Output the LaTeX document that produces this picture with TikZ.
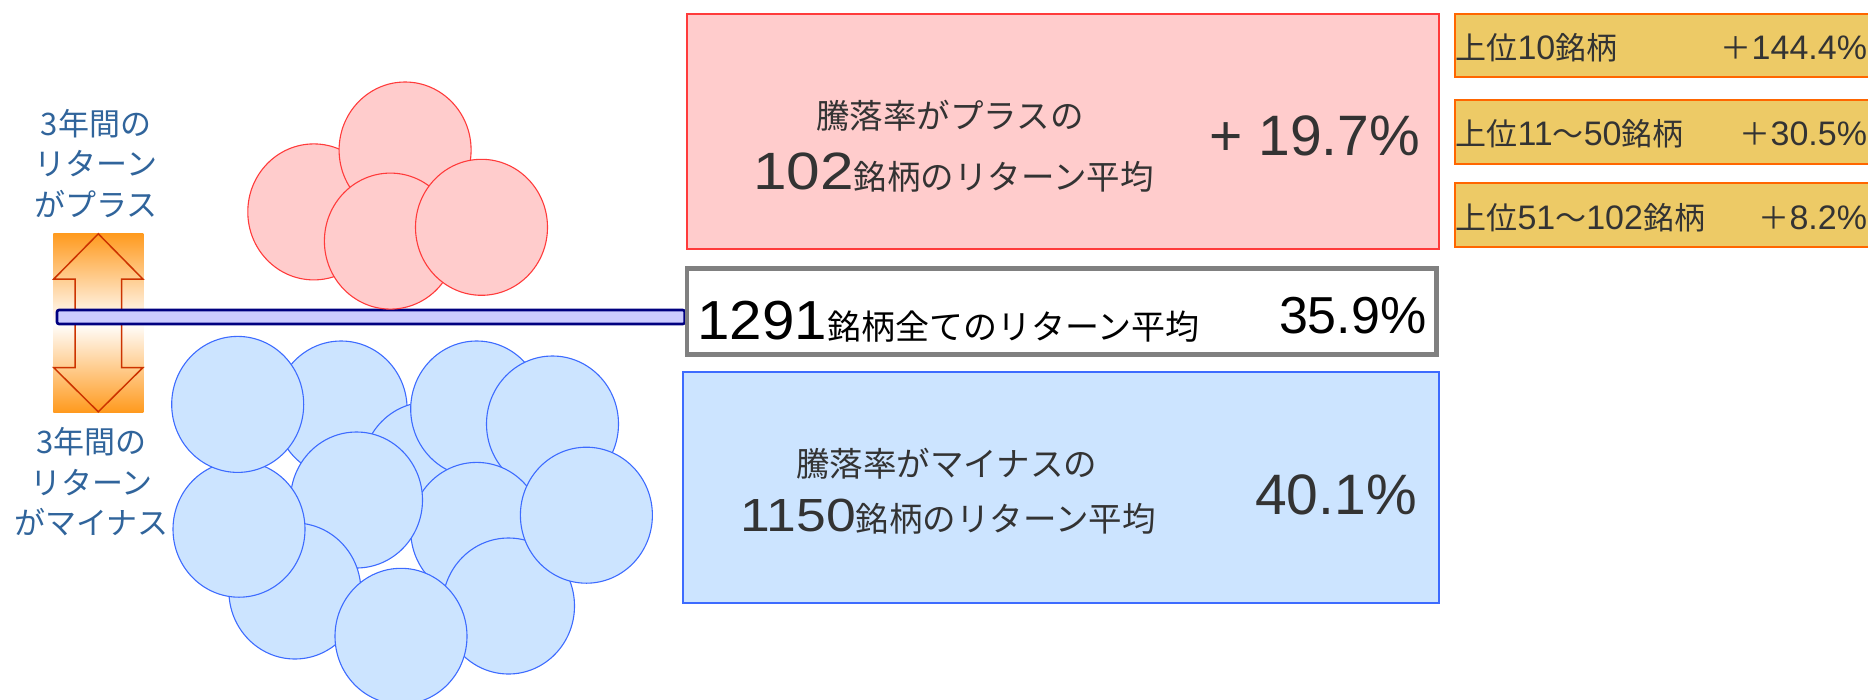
\documentclass[tikz,border=0pt]{standalone}
\usepackage{fontspec}
\setmainfont{Noto Sans CJK JP}
\newfontfamily\jpf{Noto Sans CJK JP}
\newfontfamily\arf{Liberation Sans}
\newfontfamily\arwf[FakeStretch=1.15]{Liberation Sans}
\newfontfamily\arvf[FakeStretch=1.06]{Liberation Sans}
\newcommand{\fsz}[1]{\fontsize{#1}{#1}\selectfont}
\definecolor{redfill}{HTML}{FFCCCC}
\definecolor{redline}{HTML}{FF3B3B}
\definecolor{bluefill}{HTML}{CCE4FF}
\definecolor{blueline}{HTML}{3D6BFF}
\definecolor{gold}{HTML}{EDCA66}
\definecolor{rankline}{HTML}{FF6600}
\definecolor{gray3}{HTML}{333333}
\definecolor{labblue}{HTML}{30649B}
\definecolor{barfill}{HTML}{CCCCFF}
\definecolor{barline}{HTML}{000080}
\definecolor{boxgray}{HTML}{808080}
\definecolor{arrowline}{HTML}{CC3300}
\definecolor{orng}{HTML}{FF9A1E}
\pgfdeclarelayer{bg}
\pgfdeclarelayer{mid}
\pgfsetlayers{bg,mid,main}
\tikzset{
  txt/.style={inner sep=0pt, outer sep=0pt},
  redball/.style={fill=redfill, draw=redline, line width=1.1pt},
  blueball/.style={fill=bluefill, draw=blueline, line width=1.1pt},
  rankbox/.style={rectangle, fill=gold, draw=rankline, line width=2pt, minimum width=440, minimum height=63.6, anchor=west, inner sep=0pt},
  lab/.style={txt, anchor=base, text=labblue, font=\fsz{31}},
  barst/.style={fill=barfill, draw=barline, line width=2.6pt, rounded corners=2pt},
  updownst/.style={rectangle, inner sep=0pt, minimum width=90, minimum height=179, top color=orng, bottom color=orng, middle color=white},
  arrowst/.style={draw=arrowline, line width=1.5pt, line join=miter}
}
\begin{document}
\begin{tikzpicture}[x=1pt,y=-1pt]
\useasboundingbox (0,0) rectangle (1868,699);

% left up-down arrow
\begin{pgfonlayer}{bg}
\node[updownst] (updown) at (98.3,322.8) {};
\draw[arrowst] (98.3,233.8) -- (142.8,279) -- (121.6,279) -- (121.6,367.7) -- (142.8,367.7)
  -- (98.3,411.8) -- (53.8,367.7) -- (75,367.7) -- (75,279) -- (53.8,279) -- cycle;
\end{pgfonlayer}

% labels
\node[lab] (lp1) at (96,135) {3年間の};
\node[lab] (lp2) at (96,175.5) {リターン};
\node[lab] (lp3) at (96,216) {がプラス};
\node[lab] (lm1) at (91.5,453.5) {3年間の};
\node[lab] (lm2) at (91.5,494) {リターン};
\node[lab] (lm3) at (91.5,534.5) {がマイナス};

% red circles
\draw[redball] (313.8,211.9) ellipse [x radius=66, y radius=68];
\draw[redball] (405.1,150) ellipse [x radius=66, y radius=68];
\draw[redball] (390.4,241.1) ellipse [x radius=66, y radius=68];
\draw[redball] (481.5,227.3) ellipse [x radius=66, y radius=68];

% blue circles
\draw[blueball] (341.1,409) ellipse [x radius=66, y radius=68];
\draw[blueball] (428,470) ellipse [x radius=66, y radius=68];
\draw[blueball] (476.7,409) ellipse [x radius=66, y radius=68];
\draw[blueball] (552.5,424) ellipse [x radius=66, y radius=68];
\draw[blueball] (476.7,530.4) ellipse [x radius=66, y radius=68];
\draw[blueball] (356.5,500) ellipse [x radius=66, y radius=68];
\draw[blueball] (294.9,591) ellipse [x radius=66, y radius=68];
\draw[blueball] (239,529.2) ellipse [x radius=66, y radius=68];
\draw[blueball] (237.7,404.4) ellipse [x radius=66, y radius=68];
\draw[blueball] (508.5,606) ellipse [x radius=66, y radius=68];
\draw[blueball] (586.4,515.2) ellipse [x radius=66, y radius=68];
\draw[blueball] (401,636.3) ellipse [x radius=66, y radius=68];

% main boxes
\node[rectangle, inner sep=0pt, fill=redfill, draw=redline, line width=1.6pt, minimum width=751.5, minimum height=235.5] (redbox) at (1063,131.5) {};
\node[rectangle, inner sep=0pt, fill=white, draw=boxgray, line width=4.5pt, minimum width=749.4, minimum height=86.4] (allbox) at (1061.7,311.5) {};
\node[rectangle, inner sep=0pt, fill=bluefill, draw=blueline, line width=1.6pt, minimum width=755.5, minimum height=230.5] (bluebox) at (1061,487.5) {};

% bar from arrow to the all-stocks box
\coordinate (barstart) at (57,310);
\coordinate (barend) at (700,324);
\begin{pgfonlayer}{mid}
\draw[barst] (barstart) rectangle (allbox.west |- barend);
\end{pgfonlayer}

% texts in main boxes
\node[txt, anchor=base, text=gray3] (r1) at (950,128) {\fsz{33.5}騰落率がプラスの};
\node[txt, anchor=base, text=gray3] (r2) at (953.3,189.5) {{\arwf\fsz{52.5}102}{\fsz{33.5}銘柄のリターン平均}};
\node[txt, anchor=base east, text=gray3] (rv) at (1420,155) {\arf\fsz{57}+ 19.7\%};

\node[txt, anchor=base west, text=black] (a1) at (697.3,339.5) {{\arvf\fsz{55}1291}{\fsz{34}銘柄全てのリターン平均}};
\node[txt, anchor=base east, text=black] (av) at (1426.5,333) {\arf\fsz{52}35.9\%};

\node[txt, anchor=base, text=gray3] (b1) at (946.6,476) {\fsz{33.5}騰落率がマイナスの};
\node[txt, anchor=base, text=gray3] (b2) at (948.3,531.7) {{\arwf\fsz{46.5}1150}{\fsz{33.5}銘柄のリターン平均}};
\node[txt, anchor=base east, text=gray3] (bv) at (1416.7,514) {\arf\fsz{57}40.1\%};

% ranking boxes
\node[rankbox] (k1box) at (1454.3,45.5) {};
\node[rankbox] (k2box) at (1454.3,131.7) {};
\node[rankbox] (k3box) at (1454.3,215.2) {};
\node[txt, anchor=base west, text=gray3] (k1) at (1455.5,59.3) {\fsz{31}上位{\arf\fsz{34}10}銘柄};
\node[txt, anchor=base east, text=gray3] (k1v) at (1867,59.3) {\fsz{31}＋{\arf\fsz{34}144.4\%}};
\node[txt, anchor=base west, text=gray3] (k2) at (1455.5,145.5) {\fsz{31}上位{\arf\fsz{34}11}～{\arf\fsz{34}50}銘柄};
\node[txt, anchor=base east, text=gray3] (k2v) at (1867,145.5) {\fsz{31}＋{\arf\fsz{34}30.5\%}};
\node[txt, anchor=base west, text=gray3] (k3) at (1455.5,229) {\fsz{31}上位{\arf\fsz{34}51}～{\arf\fsz{34}102}銘柄};
\node[txt, anchor=base east, text=gray3] (k3v) at (1867,229) {\fsz{31}＋{\arf\fsz{34}8.2\%}};
\end{tikzpicture}
\end{document}
